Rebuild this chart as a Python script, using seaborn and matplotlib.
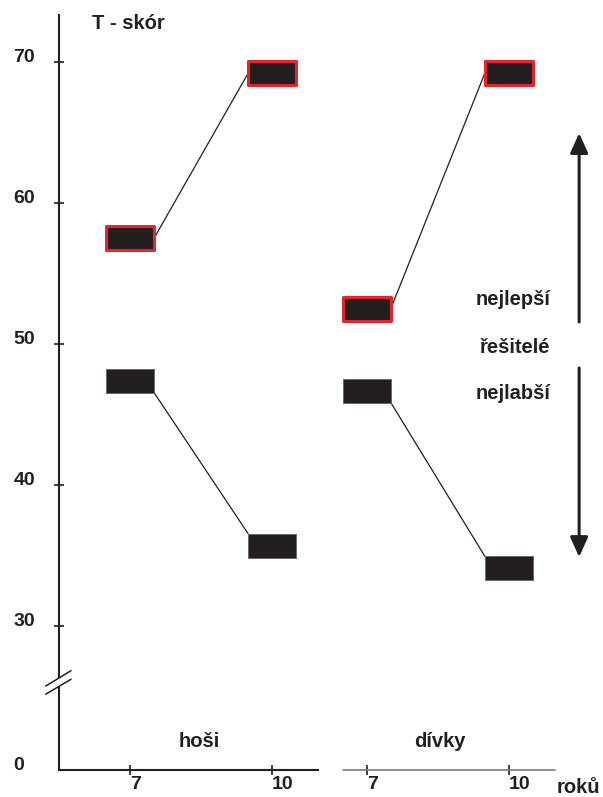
import pandas as pd
import matplotlib
matplotlib.use("Agg")
import matplotlib.pyplot as plt
from matplotlib.path import Path
import seaborn as sns

# values (T-score)
GROUPS = ["hoši", "hoši", "dívky", "dívky"]
AGES = [7, 10, 7, 10]
BEST = [57.5, 69.2, 52.5, 69.2]
WORST = [47.4, 35.7, 46.7, 34.1]
Y_TICKS = [30, 40, 50, 60, 70]
Y_LABELS = ["30", "40", "50", "60", "70"]
GROUP_SHIFT = {"hoši": 0, "dívky": 5}

DARK = "#231f20"
RED = "#e3262b"

sns.set_style("white")
plt.rcParams["font.family"] = ["Liberation Sans", "DejaVu Sans"]
plt.rcParams["font.weight"] = "bold"

df = pd.DataFrame({"group": GROUPS, "age": AGES, "best": BEST, "worst": WORST})
df["pos"] = df["age"] + df["group"].map(GROUP_SHIFT)

fig = plt.figure(figsize=(6.03, 7.97), dpi=100)
ax = fig.add_axes([0, 0, 1, 1])

# connecting lines run from box edge to box edge
hw, hh = 0.507, 0.85
segs = []
for g in ["hoši", "dívky"]:
    d = df[df.group == g].sort_values("age")
    p0, p1 = d["pos"].values
    b0, b1 = d["best"].values
    w0, w1 = d["worst"].values
    segs += [(g + "b", p0 + hw, b0), (g + "b", p1 - hw, b1),
             (g + "w", p0 + hw, w0 - hh), (g + "w", p1 - hw, w1 + hh)]
seg = pd.DataFrame(segs, columns=["seg", "x", "y"])
sns.lineplot(data=seg, x="x", y="y", units="seg", estimator=None, sort=False,
             color=DARK, lw=0.9, ax=ax, zorder=2)

box = Path([(-1, -0.5), (1, -0.5), (1, 0.5), (-1, 0.5), (-1, -0.5)],
           [Path.MOVETO, Path.LINETO, Path.LINETO, Path.LINETO, Path.CLOSEPOLY])
sns.scatterplot(data=df, x="pos", y="best", marker=box, s=1194, color=DARK,
                edgecolor=RED, linewidth=2.2, legend=False, ax=ax, zorder=3)
sns.scatterplot(data=df, x="pos", y="worst", marker=box, s=1194, color=DARK,
                edgecolor="#6d6866", linewidth=0.7, legend=False, ax=ax, zorder=3)

ax.set_xlim(4.253, 16.99)
ax.set_ylim(17.87, 74.40)
ax.set_xlabel("")
ax.set_ylabel("")

# axes
for s in ["top", "right"]:
    ax.spines[s].set_visible(False)
ax.spines["left"].set_position(("data", 5.5))
ax.spines["left"].set_bounds(19.79, 73.33)
ax.spines["bottom"].set_position(("data", 19.79))
ax.spines["bottom"].set_bounds(5.5, 10.97)
for s in ["left", "bottom"]:
    ax.spines[s].set_linewidth(1.5)
    ax.spines[s].set_color(DARK)
ax.plot([11.5, 15.98], [19.79, 19.79], color="#7a7a7a", lw=1.2, zorder=2)

ax.set_yticks([19.79] + Y_TICKS, ["0"] + Y_LABELS, ha="left", va="baseline")
ax.tick_params(axis="y", left=True, direction="inout", length=7.2, width=1.2,
               color=DARK, pad=29.3, labelsize=14, labelcolor=DARK)
ax.yaxis.get_major_ticks()[0].tick1line.set_visible(False)

ax.set_xticks(df["pos"], [str(a) for a in df["age"]], ha="left")
ax.tick_params(axis="x", bottom=True, direction="inout", length=7.2, width=1.2,
               color=DARK, pad=0.5, labelsize=14, labelcolor=DARK)

# axis break
ax.plot([5.5, 5.5], [25.72, 26.31], color="white", lw=3, zorder=3,
        solid_capstyle="butt")
ax.plot([5.219, 5.753], [25.74, 26.83], color=DARK, lw=1.1, zorder=4)
ax.plot([5.219, 5.753], [25.16, 26.22], color=DARK, lw=1.1, zorder=4)

# labels
txt = dict(fontsize=14.5, fontweight="bold", color=DARK)
ax.text(6.197, 72.34, "T - skór", ha="left", va="baseline", **txt)
ax.text(8.458, 21.42, "hoši", ha="center", va="baseline", **txt)
ax.text(13.55, 21.42, "dívky", ha="center", va="baseline", **txt)
ax.text(16.0, 18.16, "roků", ha="left", va="baseline", **txt)
ax.text(15.874, 52.77, "nejlepší", ha="right", va="baseline", **txt)
ax.text(15.874, 49.34, "řešitelé", ha="right", va="baseline", **txt)
ax.text(15.874, 46.08, "nejlabší", ha="right", va="baseline", **txt)

arrow = dict(arrowstyle="-|>,head_length=0.6,head_width=0.27", mutation_scale=20,
             lw=2.2, color=DARK, shrinkA=0, shrinkB=0)
ax.annotate("", xy=(16.486, 64.96), xytext=(16.486, 51.56), arrowprops=arrow)
ax.annotate("", xy=(16.486, 34.89), xytext=(16.486, 48.30), arrowprops=arrow)

fig.savefig("out.png", dpi=100)
